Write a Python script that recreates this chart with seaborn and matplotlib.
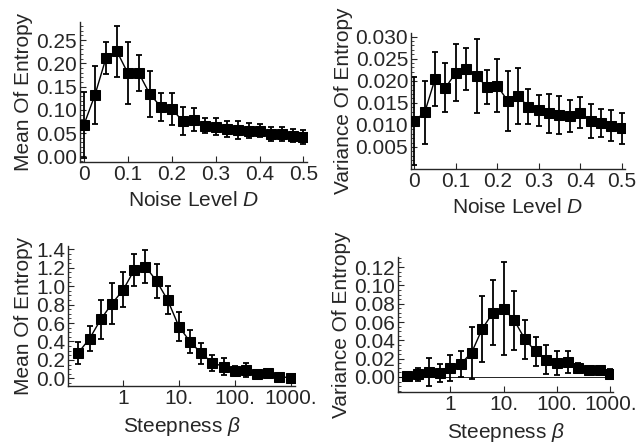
import numpy as np
import matplotlib
matplotlib.use("Agg")
import matplotlib.pyplot as plt
import matplotlib.ticker as mticker
import seaborn as sns
import pandas as pd

# ---------------- data ----------------
noise_D = [0, 0.025, 0.05, 0.075, 0.1, 0.125, 0.15, 0.175, 0.2, 0.225, 0.25,
           0.275, 0.3, 0.325, 0.35, 0.375, 0.4, 0.425, 0.45, 0.475, 0.5]
mean_D = [0.068, 0.132, 0.211, 0.226, 0.179, 0.179, 0.134, 0.107, 0.102, 0.076, 0.079,
          0.066, 0.064, 0.059, 0.057, 0.055, 0.055, 0.049, 0.049, 0.044, 0.041]
mean_D_err = [0.071, 0.062, 0.034, 0.055, 0.067, 0.039, 0.050, 0.030, 0.034, 0.031, 0.025,
              0.016, 0.019, 0.018, 0.019, 0.016, 0.014, 0.015, 0.015, 0.014, 0.015]
var_D = [0.0109, 0.0128, 0.0204, 0.0184, 0.0218, 0.0227, 0.0211, 0.0186, 0.0188, 0.0155, 0.0165,
         0.0141, 0.0133, 0.0126, 0.0122, 0.0120, 0.0127, 0.0109, 0.0105, 0.0098, 0.0092]
var_D_err = [0.0099, 0.0071, 0.0062, 0.0056, 0.0065, 0.0047, 0.0084, 0.0039, 0.0060, 0.0068, 0.0063,
             0.0040, 0.0035, 0.0044, 0.0043, 0.0036, 0.0035, 0.0039, 0.0032, 0.0035, 0.0035]

beta = [0.158, 0.251, 0.398, 0.631, 1.0, 1.585, 2.512, 3.981, 6.310, 10.0,
        15.85, 25.12, 39.81, 63.10, 100.0, 158.5, 251.2, 398.1, 631.0, 1000.0]
mean_b = [0.279, 0.431, 0.640, 0.810, 0.959, 1.176, 1.212, 1.056, 0.847, 0.561,
          0.398, 0.271, 0.170, 0.127, 0.080, 0.090, 0.043, 0.054, 0.018, 0.007]
mean_b_err = [0.120, 0.135, 0.210, 0.225, 0.190, 0.175, 0.180, 0.185, 0.150, 0.154,
              0.127, 0.117, 0.087, 0.090, 0.050, 0.080, 0.020, 0.050, 0.010, 0.010]
var_b = [0.0007, 0.0030, 0.0055, 0.0047, 0.0098, 0.0145, 0.0265, 0.0527, 0.0702, 0.0745,
         0.0618, 0.0411, 0.0280, 0.0189, 0.0153, 0.0164, 0.0098, 0.0073, 0.0073, 0.0036]
var_b_err = [0.001, 0.007, 0.0155, 0.010, 0.0145, 0.014, 0.0285, 0.036, 0.0355, 0.051,
             0.032, 0.021, 0.0155, 0.0155, 0.0128, 0.012, 0.005, 0.004, 0.005, 0.0055]

noise_ticks = [0, 0.1, 0.2, 0.3, 0.4, 0.5]
noise_labels = ["0", "0.1", "0.2", "0.3", "0.4", "0.5"]
beta_ticks = [1, 10, 100, 1000]
beta_labels = ["1", "10.", "100.", "1000."]

# ---------------- style ----------------
sns.set_style("ticks")
plt.rcParams['font.family'] = ['Liberation Sans', 'DejaVu Sans']
plt.rcParams['mathtext.fontset'] = 'custom'
plt.rcParams['mathtext.rm'] = 'Liberation Sans'
plt.rcParams['mathtext.it'] = 'Liberation Sans:italic'

TICK_FS = 15
LAB_FS = 15

fig = plt.figure(figsize=(6.36, 4.47), dpi=100)
W, H = 636, 447

def add_ax(left, top, right, bottom):
    return fig.add_axes([left / W, 1 - bottom / H, (right - left) / W, (bottom - top) / H])

ax1 = add_ax(80, 22, 307, 162)
ax2 = add_ax(411, 33, 625, 169)
ax3 = add_ax(68, 246, 295, 386)
ax4 = add_ax(398, 257, 613, 392)

def draw(ax, x, y, err):
    df = pd.DataFrame({"x": x, "y": y})
    ax.errorbar(x, y, yerr=err, fmt='none', ecolor='black', elinewidth=1.3,
                capsize=2.5, capthick=1.3, zorder=2)
    sns.lineplot(data=df, x="x", y="y", ax=ax, color='black', linewidth=1.0,
                 marker='s', markersize=6.8, markeredgecolor='black',
                 markerfacecolor='black', zorder=3)
    for s in ['top', 'right']:
        ax.spines[s].set_visible(False)
    for s in ['left', 'bottom']:
        ax.spines[s].set_linewidth(1.0)
    ax.tick_params(direction='in', length=4, width=0.8, labelsize=TICK_FS, pad=2)
    ax.tick_params(which='minor', direction='in', length=2, width=0.6)

# panel 1
draw(ax1, noise_D, mean_D, mean_D_err)
ax1.set_xlim(-0.009, 0.508)
ax1.set_ylim(-0.012, 0.289)
ax1.set_xticks(noise_ticks, noise_labels)
ax1.set_yticks([0, 0.05, 0.10, 0.15, 0.20, 0.25], ["0.00", "0.05", "0.10", "0.15", "0.20", "0.25"])
ax1.yaxis.set_minor_locator(mticker.MultipleLocator(0.01))
ax1.set_xlabel("Noise Level $D$", fontsize=LAB_FS, labelpad=5)
ax1.set_ylabel("Mean Of Entropy", fontsize=LAB_FS, labelpad=2)

# panel 2
draw(ax2, noise_D, var_D, var_D_err)
ax2.set_xlim(-0.008, 0.508)
ax2.set_ylim(0.0, 0.0308)
ax2.set_xticks(noise_ticks, noise_labels)
ax2.set_yticks([0.005, 0.010, 0.015, 0.020, 0.025, 0.030],
               ["0.005", "0.010", "0.015", "0.020", "0.025", "0.030"])
ax2.yaxis.set_minor_locator(mticker.MultipleLocator(0.001))
ax2.set_xlabel("Noise Level $D$", fontsize=LAB_FS, labelpad=5)
ax2.set_ylabel("Variance Of Entropy", fontsize=LAB_FS, labelpad=2)

# panel 3
draw(ax3, beta, mean_b, mean_b_err)
ax3.set_xscale('log')
ax3.set_xlim(0.103, 1200)
ax3.set_ylim(-0.083, 1.436)
ax3.set_xticks(beta_ticks, beta_labels)
ax3.xaxis.set_minor_locator(mticker.NullLocator())
ax3.set_yticks([0, 0.2, 0.4, 0.6, 0.8, 1.0, 1.2, 1.4],
               ["0.0", "0.2", "0.4", "0.6", "0.8", "1.0", "1.2", "1.4"])
ax3.yaxis.set_minor_locator(mticker.MultipleLocator(0.05))
ax3.set_xlabel(r"Steepness $\beta$", fontsize=LAB_FS, labelpad=5)
ax3.set_ylabel("Mean Of Entropy", fontsize=LAB_FS, labelpad=2)

# panel 4
draw(ax4, beta, var_b, var_b_err)
ax4.axhline(0, color='black', linewidth=0.6, zorder=1)
ax4.set_xscale('log')
ax4.set_xlim(0.105, 1120)
ax4.set_ylim(-0.0164, 0.131)
ax4.set_xticks(beta_ticks, beta_labels)
ax4.xaxis.set_minor_locator(mticker.NullLocator())
ax4.set_yticks([0, 0.02, 0.04, 0.06, 0.08, 0.10, 0.12],
               ["0.00", "0.02", "0.04", "0.06", "0.08", "0.10", "0.12"])
ax4.yaxis.set_minor_locator(mticker.MultipleLocator(0.005))
ax4.set_xlabel(r"Steepness $\beta$", fontsize=LAB_FS, labelpad=5)
ax4.set_ylabel("Variance Of Entropy", fontsize=LAB_FS, labelpad=2)

fig.savefig("out.png", dpi=100)
